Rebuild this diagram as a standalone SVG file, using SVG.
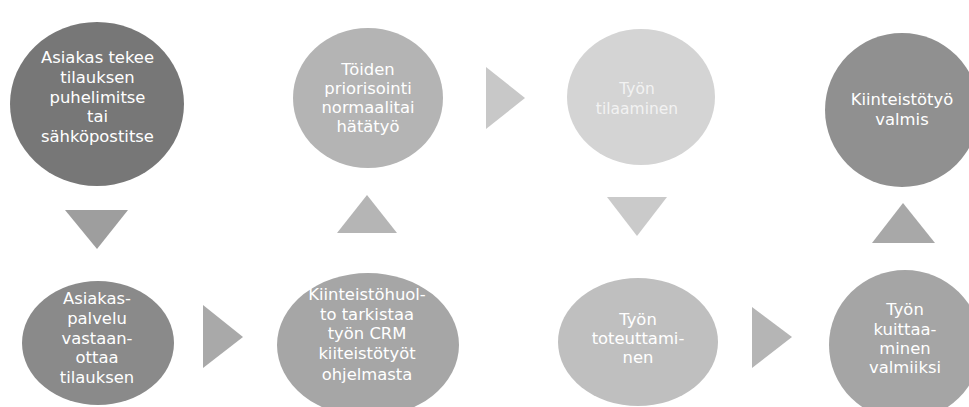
<svg xmlns="http://www.w3.org/2000/svg" width="969" height="407" viewBox="0 0 969 407">
<style>
text{font-family:"DejaVu Sans","Liberation Sans",sans-serif;font-size:16.4px;fill:#ffffff;text-anchor:middle}
.faint{fill:#f2f2f2;font-size:15.5px}
</style>
<rect width="969" height="407" fill="#ffffff"/>
<g id="connectors">
<polygon points="65,210 128,210 97,249" fill="#9e9e9e"/>
<polygon points="203,305 243,337 203,368" fill="#a9a9a9"/>
<polygon points="337,233 397,233 367,195" fill="#b5b5b5"/>
<polygon points="486,67 525,98 486,129" fill="#c8c8c8"/>
<polygon points="607,197 667,197 637,236" fill="#cacaca"/>
<polygon points="752,307 792,337 752,368" fill="#b5b5b5"/>
<polygon points="872,243 935,243 903,203" fill="#a8a8a8"/>
</g>
<g id="n1">
<ellipse cx="97" cy="104" rx="87" ry="82" fill="#777777"/>
<text x="97.5" y="63">Asiakas tekee</text>
<text x="97.5" y="83">tilauksen</text>
<text x="97.5" y="103">puhelimitse</text>
<text x="97.5" y="122">tai</text>
<text x="97.5" y="142">sähköpostitse</text>
</g>
<g id="n2">
<ellipse cx="98" cy="343" rx="76" ry="62" fill="#8a8a8a"/>
<text x="97" y="304">Asiakas-</text>
<text x="97" y="324">palvelu</text>
<text x="97" y="344">vastaan-</text>
<text x="97" y="363">ottaa</text>
<text x="97" y="383">tilauksen</text>
</g>
<g id="n3">
<ellipse cx="368" cy="345" rx="91" ry="72" fill="#a6a6a6"/>
<text x="367" y="300">Kiinteistöhuol-</text>
<text x="367" y="320">to tarkistaa</text>
<text x="367" y="339">työn CRM</text>
<text x="367" y="359">kiiteistötyöt</text>
<text x="367" y="380">ohjelmasta</text>
</g>
<g id="n4">
<ellipse cx="368" cy="98" rx="75" ry="70" fill="#b4b4b4"/>
<text x="368" y="75">Töiden</text>
<text x="368" y="94">priorisointi</text>
<text x="368" y="113">normaalitai</text>
<text x="368" y="132">hätätyö</text>
</g>
<g id="n5">
<ellipse cx="641" cy="97" rx="74" ry="68" fill="#d4d4d4"/>
<text class="faint" x="637" y="94">Työn</text>
<text class="faint" x="637" y="114">tilaaminen</text>
</g>
<g id="n6">
<ellipse cx="638" cy="342" rx="80" ry="64" fill="#bfbfbf"/>
<text x="638" y="325">Työn</text>
<text x="638" y="344">toteuttami-</text>
<text x="638" y="363">nen</text>
</g>
<g id="n7">
<ellipse cx="905" cy="345" rx="76" ry="75" fill="#a5a5a5"/>
<text x="905" y="315">Työn</text>
<text x="905" y="335">kuittaa-</text>
<text x="905" y="354">minen</text>
<text x="905" y="373">valmiiksi</text>
</g>
<g id="n8">
<ellipse cx="902" cy="110" rx="77" ry="77" fill="#909090"/>
<text x="902" y="105">Kiinteistötyö</text>
<text x="902" y="125">valmis</text>
</g>
</svg>
